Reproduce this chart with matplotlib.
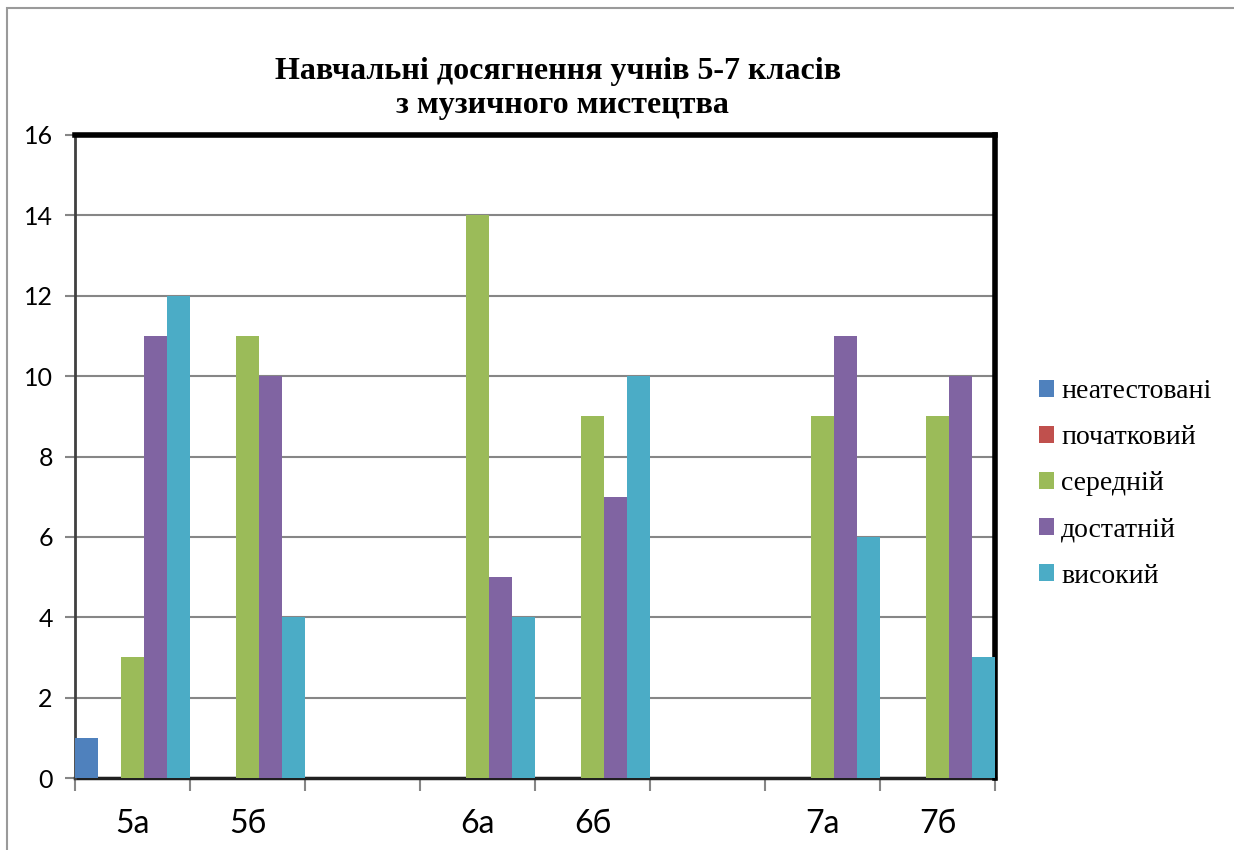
import matplotlib
matplotlib.use("Agg")
import matplotlib.pyplot as plt
from matplotlib.patches import Rectangle
import numpy as np

categories = ['5а', '5б', '', '6а', '6б', '', '7а', '7б']
series_names = ['неатестовані', 'початковий', 'середній', 'достатній', 'високий']
neatestovani = [1, 0, 0, 0, 0, 0, 0, 0]
pochatkovyi = [0, 0, 0, 0, 0, 0, 0, 0]
serednii = [3, 11, 0, 14, 9, 0, 9, 9]
dostatnii = [11, 10, 0, 5, 7, 0, 11, 10]
vysokyi = [12, 4, 0, 4, 10, 0, 6, 3]
colors = ['#4F81BD', '#C0504D', '#9BBB59', '#8064A2', '#4BACC6']
yticks = [0, 2, 4, 6, 8, 10, 12, 14, 16]

series = [neatestovani, pochatkovyi, serednii, dostatnii, vysokyi]

fig = plt.figure(figsize=(12.34, 8.5), dpi=100)
W, H = 1234, 850
ax = fig.add_axes([75 / W, 1 - 778 / H, 920 / W, 643 / H])

x = np.arange(len(categories))
n = len(series)
bw = 1.0 / n
for k, (vals, c, name) in enumerate(zip(series, colors, series_names)):
    ax.bar(x - 0.5 + bw * k, vals, width=bw, align='edge', color=c,
           edgecolor='none', label=name, zorder=3)

ax.set_xlim(-0.5, len(categories) - 0.5)
ax.set_ylim(0, 16)
ax.set_yticks(yticks)
ax.set_yticklabels([str(v) for v in yticks], fontfamily='Lato', fontsize=18)
ax.yaxis.grid(True, color='#868686', linewidth=1.5, zorder=0)
ax.tick_params(axis='y', length=7, width=1.5, color='#868686', pad=9)

ax.set_xticks(np.arange(len(categories) + 1) - 0.5)
ax.set_xticklabels([])
ax.tick_params(axis='x', which='major', length=9, width=1.5, color='#868686')
ax.set_xticks(x, minor=True)
ax.set_xticklabels(categories, minor=True, fontfamily='Lato', fontsize=23)
ax.tick_params(axis='x', which='minor', length=0, pad=22)

for s in ['top', 'right']:
    ax.spines[s].set_linewidth(4)
    ax.spines[s].set_color('black')
ax.spines['left'].set_linewidth(2)
ax.spines['left'].set_color('#404040')
ax.spines['bottom'].set_linewidth(2.5)
ax.spines['bottom'].set_color('#202020')
ax.spines['bottom'].set_zorder(2)

fig.text(558 / W, 1 - 72 / H, 'Навчальні досягнення учнів 5-7 класів',
         ha='center', va='center', fontfamily='Liberation Serif',
         fontweight='bold', fontsize=23)
fig.text(562 / W, 1 - 106 / H, 'з музичного мистецтва',
         ha='center', va='center', fontfamily='Liberation Serif',
         fontweight='bold', fontsize=23)

leg = fig.legend(loc='upper left', bbox_to_anchor=(1028 / W, 1 - 368 / H),
                 frameon=False, prop={'family': 'Liberation Serif', 'size': 20},
                 handlelength=0.55, handleheight=0.55, handletextpad=0.25,
                 labelspacing=0.76, borderaxespad=0)

fig.patches.append(Rectangle((7 / W, -0.1), 1.2, 1 - 8 / H + 0.1,
                             transform=fig.transFigure, fill=False,
                             edgecolor='#9a9a9a', linewidth=1.5))

fig.savefig('out.png', dpi=100)
